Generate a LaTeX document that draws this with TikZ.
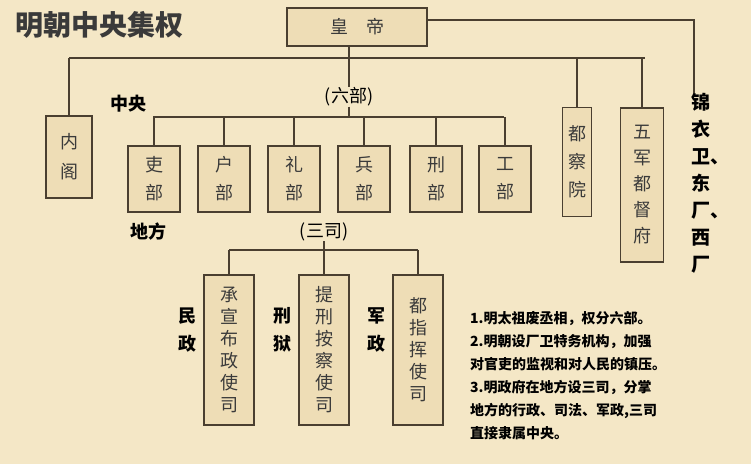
\documentclass[tikz,border=0pt]{standalone}
\usepackage{fontspec}
\setmainfont{Noto Sans CJK SC}
\definecolor{bg}{HTML}{F4E7C6}
\definecolor{bx}{HTML}{EEDDB6}
\definecolor{ln}{HTML}{4A3F30}
\definecolor{tx}{HTML}{3A3A3A}
\tikzset{
 box/.style={draw=ln,line width=1.2pt,fill=bx,inner sep=0pt,text=tx,font=\fontsize{18}{22}\selectfont},
 conn/.style={draw=ln,line width=1.2pt},
 lbl/.style={text=black,font=\fontsize{18}{22}\selectfont\bfseries,inner sep=0pt,align=center},
}
\begin{document}
\begin{tikzpicture}[x=1pt,y=-1pt]
\fill[bg] (0,0) rectangle (751,464);
\useasboundingbox (0,0) rectangle (751,464);
\node[text=tx,font=\fontsize{28}{32}\selectfont\bfseries,anchor=west] (title) at (12,25) {明朝中央集权};
% emperor
\node[box,minimum width=140,minimum height=38] (hd) at (357,27) {皇\quad 帝};
% top bar
\coordinate (tl) at (69,58); \coordinate (tr) at (645,58);
\coordinate (hdb) at (349,58);
\draw[conn] (tl) -- (tr);
\draw[conn] (hd.south -| hdb) -- (hdb);
% neige
\node[box,minimum width=46,minimum height=82,align=center] (ng) at (69,157) {内\\[8pt]阁};
\draw[conn] (tl) -- (ng.north);
\node[lbl] (zy) at (128,104) {中央};
% six ministries
\node[lbl,font=\fontsize{18}{22}\selectfont] (lb) at (349,97) {(六部)};
\draw[conn] (hdb) -- (lb.north);
\coordinate (bl) at (153,117); \coordinate (br) at (504,117);
\draw[conn] (bl) -- (br);
\draw[conn] (lb.south) -- (lb.south |- bl);
\foreach \n/\c/\x in {a/吏/154,b/户/224,c/礼/294,d/兵/364,e/刑/436,f/工/505}{
  \node[box,minimum width=52,minimum height=66,align=center] (m\n) at (\x,179) {\c\\[6pt]部};
  \draw[conn] (m\n.north |- bl) -- (m\n.north);
}
% duchayuan
\node[box,minimum width=29,minimum height=109,align=center] (dc) at (577,162) {都\\[6pt]察\\[6pt]院};
\draw[conn] (dc.north |- tl) -- (dc.north);
\node[box,minimum width=43,minimum height=154,align=center] (wj) at (642,185) {五\\[4pt]军\\[4pt]都\\[4pt]督\\[4pt]府};
\draw[conn] (wj.north |- tl) -- (wj.north);
% jinyiwei
\coordinate (jc) at (694,20);
\node[lbl,anchor=north,text width=20pt,font=\fontsize{19}{27}\selectfont\bfseries] (jy) at (701,93) {锦\\衣\\卫\rlap{、}\\东\\厂\rlap{、}\\西\\厂};
\draw[conn] (hd.east |- jc) -- (jc) -- (jc |- jy.north);
% local
\node[lbl] (df) at (148,232) {地方};
\node[lbl,font=\fontsize{18}{22}\selectfont] (ss) at (324,232) {(三司)};
\coordinate (sl) at (229,250); \coordinate (sr) at (418,250);
\draw[conn] (sl) -- (sr);
\draw[conn] (ss.south) -- (ss.south |- sl);
\foreach \n/\t/\x in {p/承\\宣\\布\\政\\使\\司/229,q/提\\刑\\按\\察\\使\\司/324,r/都\\指\\挥\\使\\司/418}{
  \node[box,minimum width=50,minimum height=150,align=center,font=\fontsize{18}{22}\selectfont] (s\n) at (\x,350) {\t};
  \draw[conn] (s\n.north |- sl) -- (s\n.north);
}
\node[lbl] (mz) at (187,330) {民\\[6pt]政};
\node[lbl] (xy) at (282,330) {刑\\[6pt]狱};
\node[lbl] (jz) at (376,330) {军\\[6pt]政};
% notes
\node[anchor=north west,inner sep=0pt,text=black,font=\fontsize{14}{23}\selectfont\bfseries,align=left] (nt) at (470,311)
{1.明太祖废丞相，权分六部。\\2.明朝设厂卫特务机构，加强\\对官吏的监视和对人民的镇压。\\3.明政府在地方设三司，分掌\\地方的行政、司法、军政,三司\\直接隶属中央。};
\end{tikzpicture}
\end{document}
